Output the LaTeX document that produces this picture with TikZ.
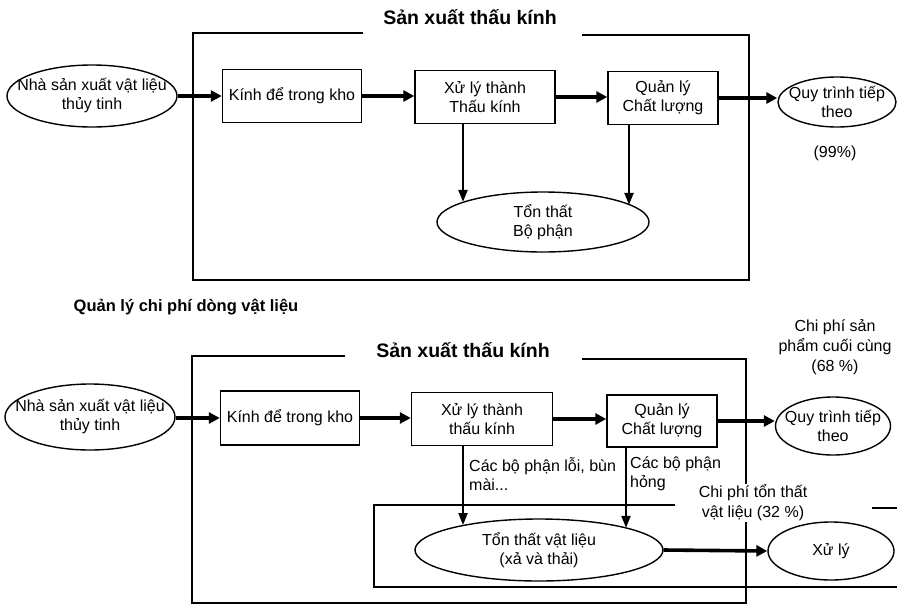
\documentclass[tikz,border=0pt]{standalone}
\usepackage{fontspec}
\setmainfont{Liberation Sans}
\usetikzlibrary{arrows.meta,shapes.geometric,calc}
\begin{document}
\begin{tikzpicture}[x=1pt,y=-1pt,
  every node/.style={font=\fontsize{16}{19}\selectfont, align=center, inner sep=0pt},
  procbox/.style={draw, line width=1.4pt, minimum height=53pt, inner sep=2pt},
  ellnode/.style={ellipse, draw, line width=1.4pt, inner sep=0pt},
  titletext/.style={font=\fontsize{19.5}{22}\selectfont\bfseries},
  frame/.style={line width=2.6pt},
  innerframe/.style={line width=2pt},
  flow/.style={line width=3.6pt, -{Triangle[length=11pt,width=11pt]}},
  drop/.style={line width=2.2pt, -{Triangle[length=12pt,width=9pt]}},
  note/.style={font=\fontsize{16}{20}\selectfont},
]
\useasboundingbox (0,0) rectangle (897,606);

% ---------------- top diagram ----------------
\draw[frame] (363,33) -- (193,33) -- (193,280) -- (749,280) -- (749,35) -- (582,35);
\node[titletext] (title1) at (470,17) {Sản xuất thấu kính};

\node[ellnode, minimum width=170pt, minimum height=62pt] (n1) at (92,96) {};
\node (n1t) at (n1.center) {Nhà sản xuất vật liệu\\thủy tinh};
\node[procbox, minimum width=139pt] (k1) at (292,96) {Kính để trong kho};
\node[procbox, minimum width=140pt] (x1) at (485,97) {Xử lý thành\\Thấu kính};
\node[procbox, minimum width=110pt] (q1) at (663,98) {Quản lý\\Chất lượng};
\node[ellnode, minimum width=118pt, minimum height=50pt] (r1) at (837,102) {};
\node (r1t) at (r1.center) {Quy trình tiếp\\theo};
\node (p99) at (835,153) {(99\%)};
\node[ellnode, minimum width=212pt, minimum height=60pt] (tt1) at (543,222) {};
\node (tt1t) at (tt1.center) {Tổn thất\\Bộ phận};

\draw[flow] (n1.east) -- (n1.east -| k1.west);
\draw[flow] (k1.east) -- (k1.east -| x1.west);
\draw[flow] (x1.east) -- (x1.east -| q1.west);
\draw[flow] (q1.east) -- (q1.east -| r1.west);
\coordinate (d1) at ([xshift=-22pt]x1.south);
\coordinate (d2) at ([xshift=-34pt]q1.south);
\draw[drop] (d1) -- (d1 |- tt1.166);
\draw[drop] (d2) -- (d2 |- tt1.11.5);

% ---------------- middle label ----------------
\node[font=\fontsize{16.5}{19}\selectfont\bfseries] (mid) at (186,307) {Quản lý chi phí dòng vật liệu};

% ---------------- bottom diagram ----------------
\draw[frame] (345,356) -- (192,356) -- (192,603) -- (746,603) -- (746,359) -- (582,359);
\draw[innerframe] (675,505) -- (374,505) -- (374,587) -- (897,587);
\draw[innerframe] (872,508) -- (897,508);
\node[titletext] (title2) at (463,350) {Sản xuất thấu kính};

\node[ellnode, minimum width=170pt, minimum height=66pt] (n2) at (90,417) {};
\node (n2t) at (n2.center) {Nhà sản xuất vật liệu\\thủy tinh};
\node[procbox, minimum width=139pt, minimum height=54pt] (k2) at (290,418) {Kính để trong kho};
\node[procbox, minimum width=141pt] (x2) at (482,419) {Xử lý thành\\thấu kính};
\node[procbox, minimum width=110pt, minimum height=52pt] (q2) at (662,421) {Quản lý\\Chất lượng};
\node[ellnode, minimum width=115pt, minimum height=58pt] (r2) at (833,426) {};
\node (r2t) at (r2.center) {Quy trình tiếp\\theo};
\node[note] (cp68) at (835,347) {Chi phí sản\\phẩm cuối cùng\\(68 \%)};

\node[align=left, anchor=west] (lab1) at (469,474) {Các bộ phận lỗi, bùn\\mài...};
\node[align=left, anchor=west] (lab2) at (630,474) {Các bộ phận\\hỏng};
\node[note, fill=white, inner sep=1pt] (cp32) at (753,503) {Chi phí tổn thất\\vật liệu (32 \%)};

\node[ellnode, minimum width=248pt, minimum height=62pt] (tt2) at (539,550) {};
\node (tt2t) at (tt2.center) {Tổn thất vật liệu\\(xả và thải)};
\node[ellnode, minimum width=126pt, minimum height=58pt] (xl) at (831,551) {};
\node (xlt) at (xl.center) {Xử lý};

\draw[flow] (n2.east |- k2.west) -- (k2.west);
\draw[flow] (k2.east) -- (k2.east -| x2.west);
\draw[flow] (x2.east) -- (x2.east -| q2.west);
\draw[flow] (q2.east) -- (q2.east -| r2.west);
\draw[flow] (tt2.east) -- (xl.west);
\coordinate (d3) at ([xshift=-19pt]x2.south);
\coordinate (d4) at ([xshift=-36pt]q2.south);
\draw[drop] (d3) -- (d3 |- tt2.162);
\draw[drop] (d4) -- (d4 |- tt2.14.3);
\end{tikzpicture}
\end{document}
